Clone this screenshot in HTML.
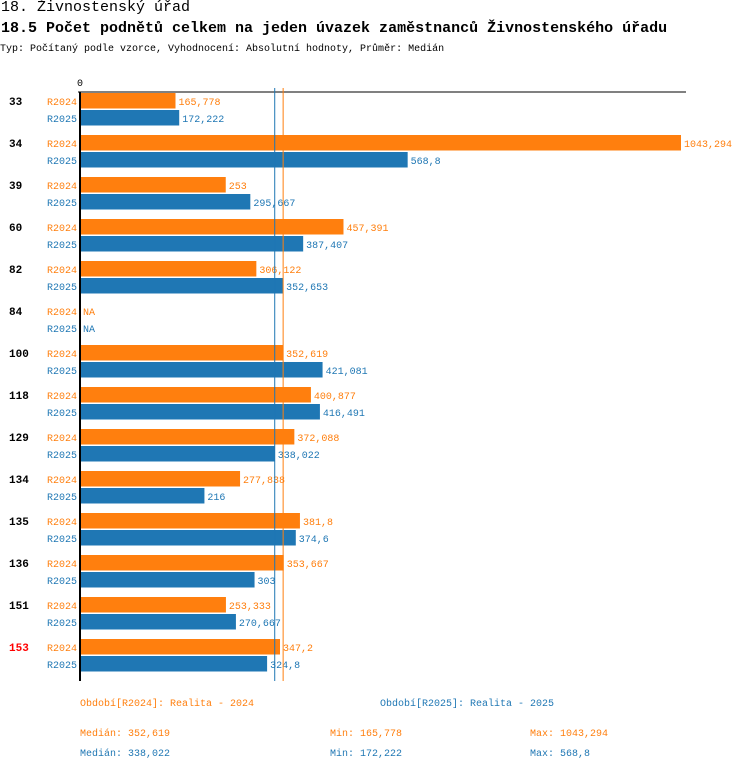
<!DOCTYPE html>
<html><head><meta charset="utf-8"><style>
body{margin:0;width:750px;height:770px;background:#fff;overflow:hidden;font-family:"Liberation Mono",monospace}
.t{position:absolute;white-space:nowrap}
</style></head><body>
<div class="t" style="left:1px;top:-1px;font-size:15px">18. Živnostenský úřad</div>
<div class="t" style="left:1px;top:20px;font-size:15px;font-weight:bold">18.5 Počet podnětů celkem na jeden úvazek zaměstnanců Živnostenského úřadu</div>
<div class="t" style="left:0px;top:44px;font-size:10px">Typ: Počítaný podle vzorce, Vyhodnocení: Absolutní hodnoty, Průměr: Medián</div>
<svg id="c" width="750" height="770" style="position:absolute;left:0;top:0" font-family="Liberation Mono, monospace" font-size="10"></svg>
<script>
const categories=["33","34","39","60","82","84","100","118","129","134","135","136","151","153"];
const r2024=[165.778,1043.294,253,457.391,306.122,null,352.619,400.877,372.088,277.838,381.8,353.667,253.333,347.2];
const r2025=[172.222,568.8,295.667,387.407,352.653,null,421.081,416.491,338.022,216,374.6,303,270.667,324.8];
const labels2024=["165,778","1043,294","253","457,391","306,122","NA","352,619","400,877","372,088","277,838","381,8","353,667","253,333","347,2"];
const labels2025=["172,222","568,8","295,667","387,407","352,653","NA","421,081","416,491","338,022","216","374,6","303","270,667","324,8"];
const medians=[352.619,338.022];
const O="#ff7f0e",B="#1f77b4",NS="http://www.w3.org/2000/svg";
const svg=document.getElementById('c');
const x=v=>80+v*601/1043.294;
const y=(i,s)=>93+42*i+s*17;
function el(t,a,txt){const e=document.createElementNS(NS,t);for(const k in a)e.setAttribute(k,a[k]);if(txt!==undefined)e.textContent=txt;svg.appendChild(e);return e;}
let e;
e=el('line',{x1:78,x2:686,y1:92,y2:92,stroke:'#000','stroke-width':1});


e=el('text',{x:77,y:86,'font-size':10},'0');


categories.forEach((c,i)=>{
 e=el('text',{x:9,y:y(i,0)+12,'font-weight':'bold','font-size':11,fill:c==='153'?'#f00':'#000'},c);
 
 
 [[r2024,labels2024,O,'R2024'],[r2025,labels2025,B,'R2025']].forEach((s,k)=>{
  const yy=y(i,k);
  e=el('text',{x:47,y:yy+12,fill:s[2]},s[3]);
  
  
  const v=s[0][i];
  if(v!==null){
   e=el('rect',{x:80,y:yy,width:x(v)-80,height:15.5,fill:s[2]});
   
   
  }
  e=el('text',{x:(v===null?80:x(v))+3,y:yy+12,fill:s[2]},s[1][i]);
  
  
 });
});
medians.forEach((m,k)=>{
 e=el('line',{x1:x(m),x2:x(m),y1:88,y2:681,stroke:k?B:O,'stroke-width':1});
 
 
});
e=el('line',{x1:80,x2:80,y1:92,y2:681,stroke:'#000','stroke-width':2});


const legend=[[80,706,O,'Období[R2024]: Realita - 2024'],[380,706,B,'Období[R2025]: Realita - 2025'],
[80,736,O,'Medián: 352,619'],[330,736,O,'Min: 165,778'],[530,736,O,'Max: 1043,294'],
[80,756,B,'Medián: 338,022'],[330,756,B,'Min: 172,222'],[530,756,B,'Max: 568,8']];
legend.forEach(l=>{
 e=el('text',{x:l[0],y:l[1],fill:l[2]},l[3]);
 
 
});
</script>
</body></html>
